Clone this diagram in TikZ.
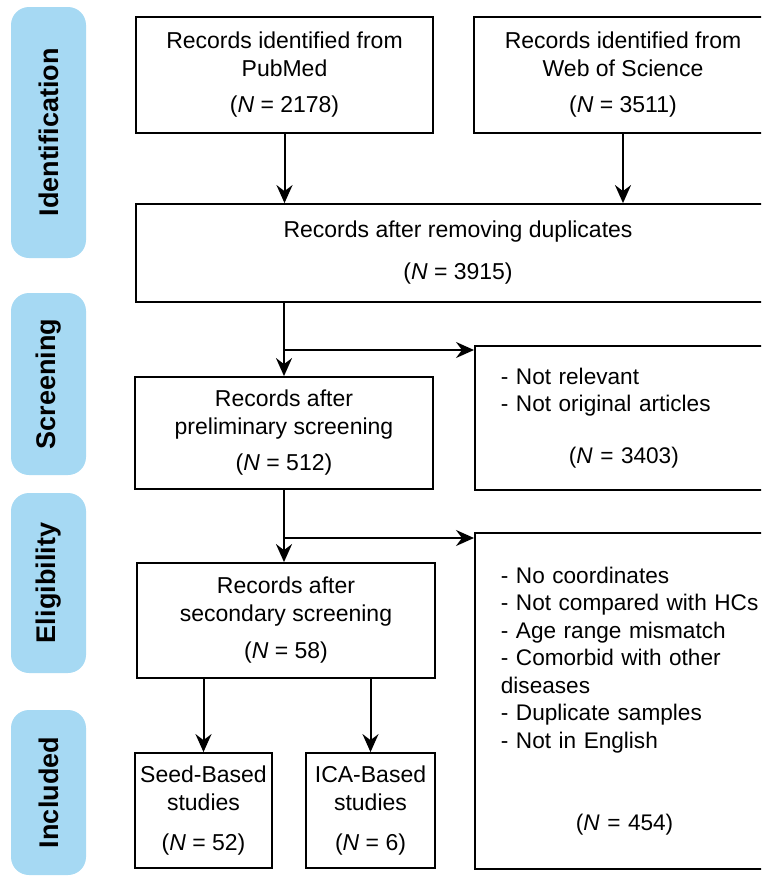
\documentclass[tikz,border=0pt]{standalone}
\usepackage{fontspec}
\setmainfont{Liberation Sans}
\usetikzlibrary{arrows.meta}
\definecolor{phaseblue}{RGB}{166,217,243}

\begin{document}
\begin{tikzpicture}[x=1pt, y=-1pt,
% node style
rec/.style={draw=black, line width=1.8pt, align=center, inner sep=3pt, font=\fontsize{23}{28}\selectfont},
excl/.style={rec, align=left, anchor=north west, text width=264pt, inner xsep=22pt, minimum width=316pt, font=\fontsize{22.6}{27.5}\selectfont},
phase/.style={fill=phaseblue, rounded corners=18pt, minimum height=75pt, rotate=90, font=\fontsize{27}{30}\selectfont\bfseries},
arr/.style={line width=2pt, -{Stealth[length=18pt, width=16pt, inset=6pt]}}
]
\useasboundingbox (0,0) rectangle (761,884);
\clip (0,0) rectangle (761,884);

% phase labels
\node[phase, minimum width=251pt] (ph_id) at (48.5,132.5) {Identification};
\node[phase, minimum width=182pt] (ph_scr) at (48.5,384) {Screening};
\node[phase, minimum width=180pt] (ph_elig) at (48.5,583) {Eligibility};
\node[phase, minimum width=165pt] (ph_inc) at (48.5,792.5) {Included};

% nodes
\node[rec, minimum width=297pt, minimum height=116pt] (pubmed) at (284.5,75)
  {Records identified from\\PubMed\\[8pt](\textit{N} = 2178)};
\node[rec, minimum width=298pt, minimum height=116pt] (wos) at (623,75)
  {Records identified from\\Web of Science\\[8pt](\textit{N} = 3511)};
\node[rec, minimum width=644pt, minimum height=98pt] (dedup) at (458,253)
  {Records after removing duplicates\\[14pt](\textit{N} = 3915)};
\node[rec, minimum width=298pt, minimum height=112pt] (prelim) at (284,433)
  {Records after\\preliminary screening\\[8pt](\textit{N} = 512)};
\node[excl, minimum height=144pt] (scr_excl) at (474,345)
  {- Not relevant\\- Not original articles\\[24pt]\hspace*{68pt}(\textit{N} = 3403)};
\node[rec, minimum width=298pt, minimum height=115pt] (second) at (286,620.5)
  {Records after\\secondary screening\\[9pt](\textit{N} = 58)};
\node[excl, minimum height=336pt] (elig_excl) at (474,532)
  {- No coordinates\\- Not compared with HCs\\- Age range mismatch\\- Comorbid with other\\diseases\\- Duplicate samples\\- Not in English\\[55pt]\hspace*{75pt}(\textit{N} = 454)};
\node[rec, minimum width=137pt, minimum height=115pt] (seed) at (203.5,810.5)
  {Seed-Based\\studies\\[12pt](\textit{N} = 52)};
\node[rec, minimum width=129pt, minimum height=115pt] (ica) at (370.5,810.5)
  {ICA-Based\\studies\\[12pt](\textit{N} = 6)};

\coordinate (br_scr) at (284,350);
\coordinate (br_elig) at (284,538);

% draw lines between nodes
\draw[arr] (pubmed.south) -- (pubmed.south |- dedup.north);
\draw[arr] (wos.south) -- (wos.south |- dedup.north);
\draw[arr] (prelim.north |- dedup.south) -- (prelim.north);
\draw[arr] (br_scr) -- (br_scr -| scr_excl.west);
\draw[arr] (prelim.south) -- (prelim.south |- second.north);
\draw[arr] (br_elig) -- (br_elig -| elig_excl.west);
\draw[arr] (seed.north |- second.south) -- (seed.north);
\draw[arr] (ica.north |- second.south) -- (ica.north);

\end{tikzpicture}
\end{document}
